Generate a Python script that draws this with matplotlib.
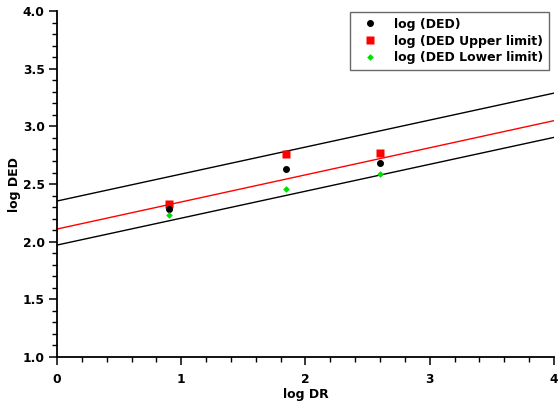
import matplotlib.pyplot as plt
import numpy as np
from matplotlib.ticker import MultipleLocator

plt.rcParams['font.family'] = 'DejaVu Sans'
plt.rcParams['font.weight'] = 'bold'

# measured points
log_dr = [0.904, 1.843, 2.602]
log_ded = [2.286, 2.634, 2.680]
log_ded_upper = [2.329, 2.758, 2.772]
log_ded_lower = [2.236, 2.461, 2.585]

# fitted lines (intercept, slope)
fit_upper = (2.353, 0.234)
fit_mid = (2.110, 0.235)
fit_lower = (1.971, 0.2335)

fig = plt.figure(figsize=(5.59, 4.05), dpi=100)
ax = fig.add_axes([0.102, 0.1185, 0.889, 0.854])

xx = np.array([0, 4])
ax.plot(xx, fit_upper[0] + fit_upper[1] * xx, color='black', lw=1)
ax.plot(xx, fit_mid[0] + fit_mid[1] * xx, color='red', lw=1)
ax.plot(xx, fit_lower[0] + fit_lower[1] * xx, color='black', lw=1)

ax.plot(log_dr, log_ded, 'o', color='black', ms=4.0, label='log (DED)', zorder=4)
ax.plot(log_dr, log_ded_upper, 's', color='red', ms=5.2, mec='none', label='log (DED Upper limit)', zorder=3)
ax.plot(log_dr, log_ded_lower, 'D', color='#00e000', ms=3.4, mec='none', label='log (DED Lower limit)', zorder=5)

ax.set_xlim(0, 4)
ax.set_ylim(1.0, 4.0)
ax.xaxis.set_major_locator(MultipleLocator(1))
ax.xaxis.set_minor_locator(MultipleLocator(0.2))
ax.yaxis.set_major_locator(MultipleLocator(0.5))
ax.yaxis.set_minor_locator(MultipleLocator(0.1))
ax.xaxis.set_major_formatter(lambda v, p: '%d' % v)
ax.yaxis.set_major_formatter(lambda v, p: '%.1f' % v)

for s in ['top', 'right']:
    ax.spines[s].set_visible(False)
for s in ['left', 'bottom']:
    ax.spines[s].set_linewidth(1.3)
ax.tick_params(which='major', length=5.8, width=1.1, labelsize=8.8)
ax.tick_params(which='minor', length=3.6, width=1)
ax.tick_params(axis='x', which='major', pad=5.5)
ax.tick_params(axis='y', which='major', pad=3)

ax.set_xlabel('log DR', fontsize=9, fontweight='bold')
ax.set_ylabel('log DED', fontsize=9, fontweight='bold')
ax.xaxis.set_label_coords(0.5, -0.09)
ax.yaxis.set_label_coords(-0.072, 0.5)

leg = ax.legend(loc='upper right', bbox_to_anchor=(0.99, 0.997), fontsize=9,
                frameon=True, fancybox=False, edgecolor='#444444', borderaxespad=0,
                handlelength=2.3, handletextpad=0.75, labelspacing=0.3, borderpad=0.45)
leg.get_frame().set_linewidth(1)

fig.savefig('out.png', dpi=100)
